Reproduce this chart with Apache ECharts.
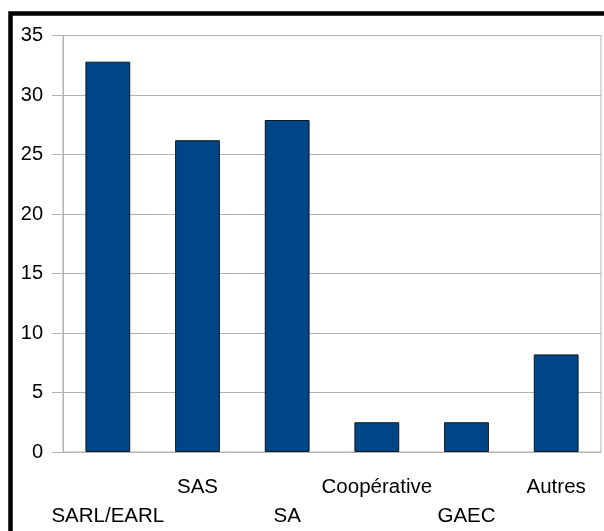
<!DOCTYPE html>
<html>
<head>
<meta charset="utf-8">
<script src="https://cdn.jsdelivr.net/npm/echarts@6/dist/echarts.min.js"></script>
<style>
  html, body { margin: 0; padding: 0; background: #fff; }
  #chart { width: 604px; height: 531px; }
</style>
</head>
<body>
<div id="chart"></div>
<script>
// data
const categories = ['SARL/EARL', 'SAS', 'SA', 'Coopérative', 'GAEC', 'Autres'];
const values = [32.8, 26.2, 27.9, 2.5, 2.5, 8.2];

const chartDom = document.getElementById('chart');
let myChart = echarts.init(chartDom);
let option;

const gridColor = '#b3b3b3';
const font = '"Liberation Sans", Arial, sans-serif';

option = {
    animation: false,
    graphic: [
        {
            type: 'rect',
            shape: { x: 10.5, y: 13.5, width: 700, height: 700 },
            style: { fill: 'none', stroke: '#000', lineWidth: 4.5 },
            silent: true
        }
    ],
    grid: {
        left: 63,
        right: 3,
        top: 35.5,
        bottom: 77.5,
        show: true,
        borderColor: gridColor,
        borderWidth: 1
    },
    xAxis: {
        type: 'category',
        data: categories,
        axisLine: { lineStyle: { color: gridColor } },
        axisTick: {
            alignWithLabel: true,
            length: 10,
            lineStyle: { color: gridColor }
        },
        axisLabel: {
            interval: 0,
            margin: 21,
            color: '#000',
            fontFamily: font,
            fontSize: 20.5,
            lineHeight: 29,
            formatter: function (value, index) {
                // labels alternate between two rows
                return index % 2 === 0 ? '\n' + value : value;
            }
        }
    },
    yAxis: {
        type: 'value',
        min: 0,
        max: 35,
        interval: 5,
        axisLine: { show: true, lineStyle: { color: gridColor } },
        axisTick: { show: true, length: 11, lineStyle: { color: gridColor } },
        splitLine: { lineStyle: { color: gridColor } },
        axisLabel: {
            margin: 20,
            color: '#000',
            fontFamily: font,
            fontSize: 20
        }
    },
    series: [
        {
            type: 'bar',
            data: values,
            barWidth: '50%',
            itemStyle: {
                color: '#004586',
                borderColor: '#101820',
                borderWidth: 1
            }
        }
    ]
};

option && myChart.setOption(option);
</script>
</body>
</html>
